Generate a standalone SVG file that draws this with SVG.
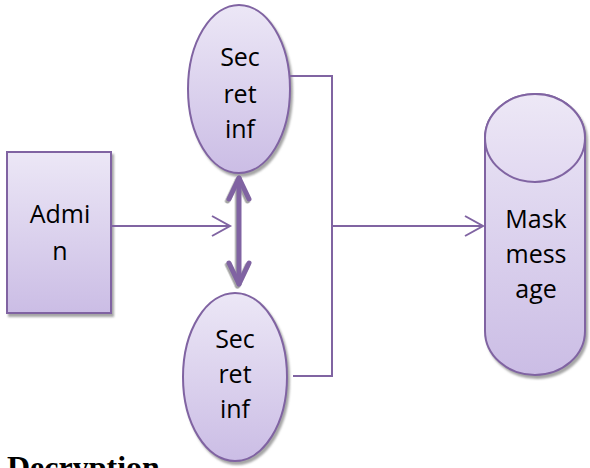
<svg xmlns="http://www.w3.org/2000/svg" width="590" height="468" viewBox="0 0 590 468">
  <defs>
    <linearGradient id="fillLav" x1="0" y1="0" x2="0" y2="1">
      <stop offset="0" stop-color="#ece7f6"/>
      <stop offset="1" stop-color="#cbbde5"/>
    </linearGradient>
    <linearGradient id="capLav" x1="0" y1="0" x2="0" y2="1">
      <stop offset="0" stop-color="#ede8f6"/>
      <stop offset="1" stop-color="#e2d9f1"/>
    </linearGradient>
    <filter id="shadow" x="-20%" y="-20%" width="150%" height="150%">
      <feDropShadow dx="2" dy="3" stdDeviation="1.2" flood-color="#7f7f7f" flood-opacity="0.7"/>
    </filter>
    <filter id="lineShadow" x="-50%" y="-20%" width="200%" height="140%">
      <feDropShadow dx="-1.5" dy="2" stdDeviation="0.6" flood-color="#8c8c8c" flood-opacity="0.8"/>
    </filter>
  </defs>
  <style>
    .shape { fill: url(#fillLav); stroke: #8064a2; stroke-width: 2; }
    .cap { fill: url(#capLav); stroke: #8064a2; stroke-width: 2; }
    .label { font-family: "Open Sans", "Liberation Sans", sans-serif; font-size: 25px; fill: #000; text-anchor: middle; }
    .wire { fill: none; stroke: #8064a2; stroke-width: 2; }
    .thick { fill: none; stroke: #8064a2; stroke-width: 5; stroke-linecap: round; stroke-linejoin: round; }
    .heading { font-family: "Liberation Serif", "Times New Roman", serif; font-weight: bold; font-size: 32px; fill: #000; }
  </style>

  <!-- Admin box -->
  <g id="admin">
    <rect class="shape" x="7" y="152" width="104" height="161" filter="url(#shadow)"/>
    <text class="label" x="60" y="223">Admi</text>
    <text class="label" x="60" y="260">n</text>
  </g>

  <!-- Upper secret-information ellipse -->
  <g id="secret-top">
    <ellipse class="shape" cx="239" cy="89" rx="51" ry="84" filter="url(#shadow)"/>
    <text class="label" x="240" y="66">Sec</text>
    <text class="label" x="240" y="103">ret</text>
    <text class="label" x="240" y="138">inf</text>
  </g>

  <!-- Lower secret-information ellipse -->
  <g id="secret-bottom">
    <ellipse class="shape" cx="235" cy="377" rx="52" ry="84" filter="url(#shadow)"/>
    <text class="label" x="235" y="348">Sec</text>
    <text class="label" x="235" y="383">ret</text>
    <text class="label" x="235" y="418">inf</text>
  </g>

  <!-- Masked message store -->
  <g id="mask-message">
    <path class="shape" d="M485,138 A50,44 0 0 1 585,138 V331 A50,44 0 0 1 485,331 Z" filter="url(#shadow)"/>
    <ellipse class="cap" cx="535" cy="138" rx="50" ry="44"/>
    <text class="label" x="536" y="228">Mask</text>
    <text class="label" x="536" y="263">mess</text>
    <text class="label" x="536" y="298">age</text>
  </g>

  <!-- Connectors -->
  <g id="connectors">
    <!-- Admin to centre -->
    <path class="wire" d="M111,226 H230"/>
    <path class="wire" d="M212,216 L230,226 L212,236"/>
    <!-- two-way link between the ellipses -->
    <g filter="url(#lineShadow)">
      <path class="thick" d="M239,178 V284"/>
      <path class="thick" d="M229,199 L239,178 L249,199"/>
      <path class="thick" d="M229,263 L239,284 L249,263"/>
    </g>
    <!-- bracket joining both ellipses -->
    <path class="wire" d="M290,76 H332 V376 H293"/>
    <!-- bracket to the masked message -->
    <path class="wire" d="M332,226 H483"/>
    <path class="wire" d="M465,216 L483,226 L465,236"/>
  </g>

  <text class="heading" x="7" y="478">Decryption</text>
</svg>
